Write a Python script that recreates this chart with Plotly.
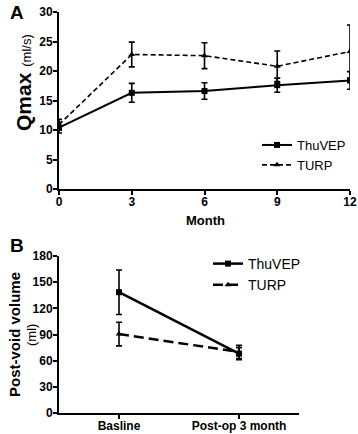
import plotly.graph_objects as go

# Panel A data
months = [0, 3, 6, 9, 12]
thuvep_qmax = [10.4, 16.3, 16.6, 17.6, 18.4]
thuvep_qmax_err = [0.9, 1.6, 1.4, 1.2, 1.5]
turp_qmax = [10.9, 22.8, 22.6, 20.8, 23.3]
turp_qmax_err = [0.9, 2.1, 2.2, 2.6, 4.5]
month_ticks = [0, 3, 6, 9, 12]
qmax_ticks = [0, 5, 10, 15, 20, 25, 30]

# Panel B data
pvr_categories = ["Basline", "Post-op 3 month"]
thuvep_pvr = [138.5, 68.0]
thuvep_pvr_err = [25.5, 7.0]
turp_pvr = [90.5, 70.0]
turp_pvr_err = [13.5, 7.5]
pvr_ticks = [0, 30, 60, 90, 120, 150, 180]

FONT = "Liberation Sans, Arial, sans-serif"
W, H = 358, 434
L, T = 59, 12
R = W - 350
B = H - 413
PW, PH = W - L - R, H - T - B


def px_x(x):
    return (x - L) / PW


def px_y(y):
    return (H - B - y) / PH


fig = go.Figure()

err_style = dict(type="data", color="black", thickness=1.6, width=3, visible=True)

fig.add_trace(go.Scatter(
    x=months, y=thuvep_qmax, name="ThuVEP", mode="lines+markers",
    line=dict(color="black", width=2),
    marker=dict(symbol="square", size=6, color="black"),
    error_y=dict(array=thuvep_qmax_err, **err_style),
    xaxis="x", yaxis="y", legend="legend",
))
fig.add_trace(go.Scatter(
    x=months, y=turp_qmax, name="TURP", mode="lines+markers",
    line=dict(color="black", width=1.6, dash="5px,3px"),
    marker=dict(symbol="triangle-up", size=6, color="black"),
    error_y=dict(array=turp_qmax_err, **err_style),
    xaxis="x", yaxis="y", legend="legend",
))
fig.add_trace(go.Scatter(
    x=[0, 1], y=thuvep_pvr, name="ThuVEP", mode="lines+markers",
    line=dict(color="black", width=2.5),
    marker=dict(symbol="square", size=6, color="black"),
    error_y=dict(array=thuvep_pvr_err, **err_style),
    xaxis="x2", yaxis="y2", legend="legend2",
))
fig.add_trace(go.Scatter(
    x=[0, 1], y=turp_pvr, name="TURP", mode="lines+markers",
    line=dict(color="black", width=2.5, dash="10px,5px"),
    marker=dict(symbol="triangle-up", size=6, color="black"),
    error_y=dict(array=turp_pvr_err, **err_style),
    xaxis="x2", yaxis="y2", legend="legend2",
))

axis_common = dict(
    showline=True, linecolor="black", linewidth=2,
    ticks="outside", ticklen=4, tickwidth=2, tickcolor="black",
    showgrid=False, zeroline=False, automargin=False,
    tickfont=dict(family=FONT, size=12, color="black", weight="bold"),
    ticklabeloverflow="allow",
)
xaxis_common = dict(axis_common, ticklabelstandoff=-3)
yaxis_common = dict(axis_common, ticklabelstandoff=-2)

top_domain = [px_y(189), 1.0]
bot_domain = [0.0, px_y(256)]

fig.update_layout(
    width=W, height=H,
    margin=dict(l=L, r=R, t=T, b=B, autoexpand=False),
    paper_bgcolor="white", plot_bgcolor="white",
    font=dict(family=FONT, color="black"),
    xaxis=dict(
        domain=[0, 1], range=[0, 12], tickvals=month_ticks,
        anchor="y",
        **xaxis_common,
    ),
    yaxis=dict(
        domain=top_domain, range=[0, 30], tickvals=qmax_ticks,
        anchor="x",
        **yaxis_common,
    ),
    xaxis2=dict(
        domain=[0, px_x(299)], range=[-0.5, 1.5], tickvals=[0, 1],
        ticktext=pvr_categories, anchor="y2",
        **xaxis_common,
    ),
    yaxis2=dict(
        domain=bot_domain, range=[0, 180], tickvals=pvr_ticks,
        anchor="x2",
        **yaxis_common,
    ),
    legend=dict(
        x=px_x(257), y=px_y(130), xanchor="left", yanchor="top",
        font=dict(family=FONT, size=13, color="black"),
        bgcolor="rgba(0,0,0,0)", tracegroupgap=0, itemwidth=30,
    ),
    legend2=dict(
        x=px_x(208), y=px_y(248), xanchor="left", yanchor="top",
        font=dict(family=FONT, size=14, color="black"),
        bgcolor="rgba(0,0,0,0)", tracegroupgap=0, itemwidth=30,
    ),
    showlegend=True,
)

ann = dict(xref="paper", yref="paper", showarrow=False, xanchor="center", yanchor="middle")
fig.add_annotation(
    x=px_x(24), y=px_y(83),
    text="<b>Qmax</b> <span style='font-size:13px'>(ml/s)</span>",
    textangle=-90, font=dict(family=FONT, size=21, color="black"), **ann,
)
fig.add_annotation(
    x=px_x(205), y=px_y(220),
    text="<b>Month</b>", font=dict(family=FONT, size=13, color="black"), **ann,
)
fig.add_annotation(
    x=px_x(14), y=px_y(335),
    text="<b>Post-void volume</b>",
    textangle=-90, font=dict(family=FONT, size=15, color="black"), **ann,
)
fig.add_annotation(
    x=px_x(31), y=px_y(335),
    text="(ml)",
    textangle=-90, font=dict(family=FONT, size=13, color="black"), **ann,
)
fig.add_annotation(
    x=px_x(17), y=px_y(13),
    text="<b>A</b>", font=dict(family=FONT, size=19, color="black"), **ann,
)
fig.add_annotation(
    x=px_x(17), y=px_y(245),
    text="<b>B</b>", font=dict(family=FONT, size=19, color="black"), **ann,
)

fig.write_html(
    "out.html",
    config={"displayModeBar": False},
    post_script="document.body.style.margin='0';document.body.style.overflow='hidden';",
)
